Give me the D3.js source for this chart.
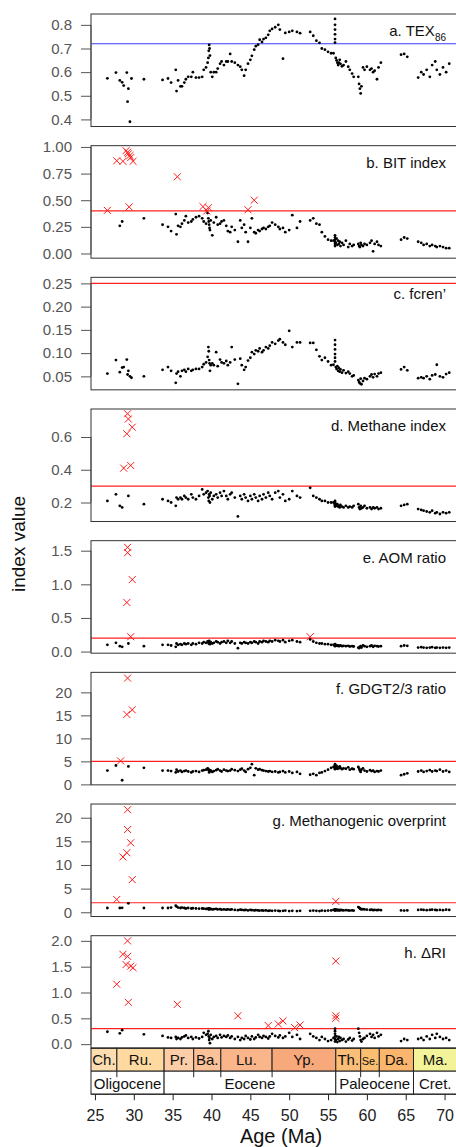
<!DOCTYPE html>
<html>
<head>
<meta charset="utf-8">
<script src="https://cdn.jsdelivr.net/npm/d3@7"></script>
<style>
  body { margin: 0; background: #fff; }
  svg { display: block; font-family: "Liberation Sans", Arial, Helvetica, sans-serif; }
</style>
</head>
<body>
<div id="chart"></div>
<script>
// sample ages (Ma), shared by all panels
var ages = [
  26.6, 27.7, 28.2, 28.5, 28.7, 29.1, 29.2, 29.3, 29.5, 29.7, 31.3,
  33.7, 34.4, 34.8, 35.4, 35.5, 35.7, 36.0, 36.2, 36.5, 36.7, 37.0, 37.4, 37.6, 38.0, 38.4, 38.8, 39.0, 39.3,
  39.5, 39.6, 39.65, 39.7, 39.75, 39.8, 39.9, 40.1, 40.3, 40.6, 40.8, 41.1, 41.3, 41.6, 41.9, 42.1,
  42.4, 42.6, 43.0, 43.4, 43.7, 43.9, 44.2, 44.4, 44.7, 45.0, 45.2, 45.5, 45.7, 46.0, 46.2, 46.5, 46.7, 47.0, 47.3, 47.5, 47.8, 48.2, 48.6, 48.8, 49.2, 49.5, 50.0, 50.4, 51.0, 51.4,
  52.7, 53.1, 53.5, 53.9, 54.2, 54.6, 55.0, 55.4,
  55.9, 55.9, 55.9, 55.9, 55.9, 55.9, 55.7, 56.0, 56.1, 56.2, 56.3, 56.4, 56.5, 56.6, 56.8, 57.0, 57.3, 57.6, 57.8, 58.1, 58.3,
  58.9, 59.0, 59.1, 59.2, 59.3, 59.5, 59.7, 60.0, 60.4, 60.6, 60.8, 61.0, 61.3, 61.5, 61.8,
  64.4, 64.8, 65.2,
  66.6, 67.0, 67.3, 67.7, 68.1, 68.4, 68.8, 69.0, 69.4, 69.8, 70.2, 70.6
];

var tex86 = [
  0.574, 0.598, 0.565, 0.557, 0.543, 0.598, 0.475, 0.53, 0.39, 0.573, 0.57,
  0.567, 0.573, 0.556, 0.61, 0.52, 0.565, 0.54, 0.54, 0.556, 0.57, 0.58, 0.58, 0.6, 0.577, 0.577, 0.58, 0.61, 0.62,
  0.64, 0.66, 0.69, 0.715, 0.70, 0.67, 0.6, 0.58, 0.6, 0.6, 0.615, 0.636, 0.645, 0.63, 0.645, 0.645,
  0.677, 0.645, 0.64, 0.63, 0.623, 0.61, 0.585, 0.61, 0.636, 0.652, 0.669, 0.695, 0.71, 0.716, 0.737, 0.728, 0.74, 0.745, 0.758, 0.775, 0.783, 0.79, 0.8, 0.78, 0.657, 0.766, 0.77, 0.775, 0.77, 0.765,
  0.77, 0.754, 0.733, 0.724, 0.7, 0.695, 0.686, 0.68,
  0.825, 0.80, 0.78, 0.76, 0.74, 0.725, 0.68, 0.66, 0.65, 0.64, 0.63, 0.64, 0.652, 0.635, 0.625, 0.63, 0.645, 0.623, 0.61, 0.594, 0.58,
  0.58, 0.55, 0.53, 0.51, 0.54, 0.62, 0.61, 0.623, 0.61, 0.615, 0.6, 0.606, 0.57, 0.62, 0.64,
  0.674, 0.677, 0.665,
  0.577, 0.6, 0.59, 0.61, 0.58, 0.63, 0.645, 0.61, 0.59, 0.62, 0.6, 0.636
];

var bit = [
  null, null, 0.26, 0.30, null, null, null, null, null, null, 0.33,
  0.27, 0.25, 0.21, 0.37, 0.18, 0.26, 0.25, 0.28, 0.31, 0.35, 0.29, 0.30, 0.32, 0.34, 0.35, 0.33, 0.30, 0.28,
  0.38, 0.33, 0.30, 0.27, 0.24, 0.22, 0.31, 0.17, 0.29, 0.34, 0.27, 0.28, 0.30, 0.31, 0.26, 0.21,
  0.20, 0.25, 0.22, 0.11, 0.31, 0.24, 0.27, 0.20, 0.11, 0.24, 0.33, 0.20, 0.19, 0.22, 0.21, 0.23, 0.24, 0.23, 0.25, 0.26, 0.29, 0.27, 0.25, 0.23, 0.24, 0.20, 0.22, 0.36, 0.24, 0.30,
  0.31, 0.33, 0.28, 0.27, 0.20, 0.16, 0.13, 0.12,
  0.17, 0.15, 0.13, 0.11, 0.09, 0.07, 0.12, 0.10, 0.14, 0.08, 0.12, 0.09, 0.11, 0.07, 0.10, 0.08, 0.12, 0.06, 0.09, 0.07, 0.08,
  0.09, 0.07, 0.06, 0.10, 0.08, 0.07, 0.09, 0.08, 0.10, 0.12, 0.02, 0.09, 0.11, 0.08, 0.07,
  0.13, 0.15, 0.14,
  0.11, 0.10, 0.08, 0.09, 0.07, 0.08, 0.07, 0.06, 0.07, 0.06, 0.05, 0.05
];

var fcren = [
  0.056, 0.085, 0.059, 0.069, 0.07, 0.086, 0.054, 0.062, 0.05, 0.047, 0.05,
  0.064, 0.07, 0.062, 0.036, 0.056, 0.06, 0.05, 0.062, 0.064, 0.06, 0.066, 0.062, 0.064, 0.066, 0.066, 0.07, 0.076, 0.08,
  0.092, 0.113, 0.104, 0.085, 0.078, 0.062, 0.074, 0.078, 0.074, 0.102, 0.072, 0.086, 0.08, 0.078, 0.083, 0.074,
  0.08, 0.113, 0.086, 0.034, 0.088, 0.074, 0.064, 0.07, 0.084, 0.09, 0.102, 0.098, 0.106, 0.104, 0.11, 0.102, 0.106, 0.113, 0.11, 0.116, 0.123, 0.12, 0.127, 0.13, 0.123, 0.118, 0.148, 0.113, 0.123, 0.123,
  0.122, 0.122, 0.107, 0.093, 0.085, 0.09, 0.082, 0.074,
  0.128, 0.118, 0.108, 0.098, 0.09, 0.082, 0.075, 0.07, 0.066, 0.072, 0.062, 0.068, 0.06, 0.065, 0.058, 0.063, 0.057, 0.06, 0.056, 0.05, 0.052,
  0.042, 0.038, 0.035, 0.045, 0.033, 0.04, 0.046, 0.044, 0.05, 0.054, 0.048, 0.055, 0.05, 0.056, 0.058,
  0.065, 0.07, 0.063,
  0.046, 0.048, 0.046, 0.05, 0.044, 0.052, 0.054, 0.075, 0.05, 0.048, 0.055, 0.058
];

var methane = [
  0.21, 0.25, 0.18, 0.17, null, null, null, 0.24, null, null, 0.19,
  0.22, 0.21, 0.20, 0.18, 0.23, 0.22, 0.23, 0.22, 0.24, 0.23, 0.22, 0.25, 0.23, 0.22, 0.24, 0.28, 0.25, 0.26,
  0.27, 0.23, 0.21, 0.25, 0.24, 0.20, 0.26, 0.22, 0.24, 0.25, 0.23, 0.26, 0.24, 0.27, 0.24, 0.22,
  0.25, 0.26, 0.23, 0.115, 0.24, 0.22, 0.25, 0.23, 0.21, 0.24, 0.22, 0.25, 0.23, 0.21, 0.24, 0.22, 0.25, 0.23, 0.26, 0.24, 0.22, 0.26, 0.27, 0.23, 0.25, 0.21, 0.22, 0.27, 0.24, 0.23,
  0.29, 0.24, 0.23, 0.22, 0.21, 0.21, 0.20, 0.20,
  0.21, 0.20, 0.19, 0.185, 0.18, 0.175, 0.20, 0.19, 0.18, 0.19, 0.175, 0.18, 0.17, 0.185, 0.175, 0.17, 0.18, 0.17, 0.175, 0.17, 0.18,
  0.19, 0.17, 0.16, 0.18, 0.165, 0.17, 0.18, 0.165, 0.17, 0.16, 0.17, 0.165, 0.17, 0.16, 0.165,
  0.18, 0.185, 0.19,
  0.16, 0.155, 0.15, 0.145, 0.14, 0.15, 0.135, 0.14, 0.13, 0.14, 0.135, 0.14
];

var aom = [
  0.10, 0.13, 0.08, 0.07, null, null, null, 0.12, null, null, 0.08,
  0.10, 0.10, 0.09, 0.07, 0.12, 0.10, 0.11, 0.10, 0.12, 0.11, 0.12, 0.10, 0.12, 0.11, 0.13, 0.12, 0.14, 0.13,
  0.15, 0.14, 0.12, 0.16, 0.13, 0.11, 0.14, 0.12, 0.13, 0.15, 0.14, 0.12, 0.14, 0.15, 0.13, 0.16,
  0.13, 0.15, 0.12, 0.05, 0.13, 0.12, 0.14, 0.13, 0.12, 0.14, 0.13, 0.15, 0.14, 0.12, 0.15, 0.14, 0.16, 0.15, 0.14, 0.16, 0.15, 0.17, 0.16, 0.15, 0.17, 0.14, 0.16, 0.17, 0.15, 0.14,
  0.18, 0.15, 0.13, 0.12, 0.12, 0.11, 0.11, 0.10,
  0.11, 0.10, 0.095, 0.09, 0.085, 0.08, 0.10, 0.09, 0.095, 0.085, 0.09, 0.08, 0.085, 0.09, 0.08, 0.085, 0.08, 0.085, 0.075, 0.08, 0.075,
  0.06, 0.05, 0.07, 0.08, 0.06, 0.09, 0.08, 0.07, 0.08, 0.09, 0.07, 0.085, 0.08, 0.075, 0.08,
  0.08, 0.09, 0.085,
  0.06, 0.065, 0.06, 0.055, 0.06, 0.065, 0.055, 0.06, 0.055, 0.06, 0.055, 0.06
];

var gdgt23 = [
  3.0, 4.1, null, 0.9, null, null, null, 3.9, null, null, 3.6,
  3.0, 3.0, 2.9, 2.6, 3.2, 2.8, 3.0, 2.7, 2.9, 3.0, 2.8, 2.6, 2.8, 2.9, 2.7, 3.0, 3.1, 3.2,
  3.5, 3.3, 3.0, 2.6, 2.8, 3.1, 3.0, 2.7, 2.9, 3.1, 3.3, 3.0, 2.8, 3.2, 3.0, 2.9,
  3.0, 3.3, 3.1, 2.9, 3.2, 3.4, 3.0, 2.7, 3.3, 3.6, 4.4, 2.0, 3.5, 3.2, 3.3, 3.1, 3.0, 2.9, 2.8, 2.9, 2.7, 2.8, 2.6, 2.7, 2.9, 2.6, 2.8, 2.5, 2.7, 2.3,
  2.1, 2.3, 2.0, 2.5, 2.6, 2.9, 3.2, 3.6,
  4.4, 4.1, 3.9, 3.7, 3.5, 3.3, 3.8, 3.6, 4.0, 3.4, 3.7, 3.5, 3.9, 3.6, 3.3, 3.5, 3.4, 3.7, 3.2, 3.4, 3.3,
  3.8, 3.4, 3.0, 2.7, 3.2, 3.5, 3.0, 2.8, 3.1, 2.9, 3.0, 2.7, 2.9, 2.8, 3.0,
  2.0, 2.2, 2.4,
  2.8, 3.0, 2.7, 2.9, 3.1, 2.8, 3.0, 2.9, 3.2, 2.8, 3.0, 2.7
];

var overprint = [
  0.9, null, 0.9, 0.95, null, null, null, 1.9, null, null, 0.9,
  0.9, 0.9, 1.0, 1.4, 1.2, 1.0, 0.9, 1.0, 0.9, 0.8, 0.9, 0.8, 0.85, 0.8, 0.75, 0.8, 0.75, 0.7,
  0.75, 0.7, 0.6, 0.8, 0.7, 0.65, 0.7, 0.6, 0.65, 0.7, 0.6, 0.65, 0.55, 0.6, 0.55, 0.6,
  0.55, 0.6, 0.5, 0.45, 0.55, 0.5, 0.45, 0.5, 0.4, 0.5, 0.45, 0.4, 0.45, 0.4, 0.35, 0.4, 0.35, 0.4, 0.3, 0.35, 0.3, 0.35, 0.3, 0.25, 0.3, 0.35, 0.25, 0.3, 0.25, 0.3,
  0.3, 0.35, 0.3, 0.25, 0.35, 0.3, 0.35, 0.4,
  0.6, 0.55, 0.5, 0.45, 0.5, 0.4, 0.5, 0.45, 0.55, 0.4, 0.5, 0.45, 0.4, 0.5, 0.45, 0.4, 0.45, 0.4, 0.35, 0.4, 0.35,
  1.1, 1.0, 0.8, 0.7, 0.6, 0.65, 0.6, 0.55, 0.5, 0.55, 0.45, 0.5, 0.45, 0.5, 0.45,
  0.4, 0.35, 0.4,
  0.5, 0.55, 0.5, 0.45, 0.5, 0.55, 0.5, 0.45, 0.5, 0.45, 0.55, 0.5
];

var deltaRI = [
  0.24, null, 0.21, 0.27, null, null, null, null, null, null, 0.19,
  0.16, 0.13, 0.12, 0.14, 0.10, 0.12, 0.10, 0.13, 0.15, 0.17, 0.12, 0.14, 0.10, 0.13, 0.11, 0.14, 0.22, 0.18,
  0.20, 0.25, 0.15, 0.08, 0.12, 0.02, 0.18, 0.10, 0.14, 0.16, 0.12, 0.18, 0.13, 0.16, 0.14, 0.17,
  0.12, 0.15, 0.10, 0.14, 0.08, 0.12, 0.10, 0.16, 0.12, 0.09, 0.15, 0.10, 0.13, 0.18, 0.14, 0.12, 0.16, 0.14, 0.11, 0.15, 0.20, 0.16, 0.13, 0.17, 0.12, 0.15, 0.22, 0.14, 0.18, 0.10,
  0.20, 0.15, 0.12, 0.08, 0.14, 0.10, 0.06, 0.08,
  0.30, 0.25, 0.20, 0.15, 0.10, 0.05, 0.12, 0.08, 0.15, 0.04, 0.10, 0.14, 0.06, 0.12, 0.08, 0.10, 0.05, 0.09, 0.12, 0.07, 0.10,
  0.30, 0.22, 0.15, 0.08, 0.05, 0.10, 0.12, 0.16, 0.20, 0.14, 0.18, 0.12, 0.22, 0.15, 0.18,
  0.06, 0.10, 0.08,
  0.10, 0.12, 0.08, 0.15, 0.10, 0.18, 0.12, 0.20, 0.14, 0.10, 0.12, 0.08
];

// flagged samples (red crosses), [age, value]
var bitFlag = [[26.6,0.405],[27.8,0.87],[28.6,0.865],[29.0,0.965],[29.2,0.95],[29.3,0.935],[29.5,0.92],[29.6,0.90],[29.9,0.865],[29.4,0.437],[35.6,0.72],[38.9,0.44],[39.4,0.40],[39.6,0.43],[44.7,0.41],[45.5,0.50]];
var methaneFlag = [[29.2,0.742],[29.3,0.71],[29.1,0.62],[29.8,0.66],[28.7,0.41],[29.6,0.426]];
var aomFlag = [[29.2,1.55],[29.2,1.47],[29.8,1.07],[29.1,0.73],[29.6,0.22],[52.7,0.22]];
var gdgtFlag = [[29.2,23.1],[29.1,15.2],[29.8,16.2],[28.3,5.1]];
var overprintFlag = [[29.2,21.7],[29.2,17.5],[29.6,14.7],[29.1,12.6],[28.6,11.7],[29.8,6.9],[27.8,2.7],[56.0,2.3]];
var deltaRIFlag = [[29.2,2.0],[28.6,1.74],[29.2,1.70],[29.0,1.54],[29.6,1.51],[29.9,1.48],[27.8,1.16],[29.3,0.81],[35.6,0.77],[43.4,0.55],[47.3,0.36],[48.6,0.39],[49.2,0.45],[50.7,0.32],[51.4,0.37],[56.0,1.61],[56.0,0.55],[56.0,0.5]];

// cut-off lines
var cutoffs = [0.72, 0.4, 0.25, 0.3, 0.2, 5, 2, 0.3];

var yTicks = [
  [0.4, 0.5, 0.6, 0.7, 0.8],
  [0, 0.25, 0.5, 0.75, 1],
  [0.05, 0.1, 0.15, 0.2, 0.25],
  [0.2, 0.4, 0.6],
  [0, 0.5, 1, 1.5],
  [0, 5, 10, 15, 20],
  [0, 5, 10, 15, 20],
  [0, 0.5, 1, 1.5, 2]
];
var yFormats = [".1f", ".2f", ".2f", ".1f", ".1f", "d", "d", ".1f"];
var yDomains = [[0.37, 0.846], [-0.044, 1.012], [0.021, 0.263], [0.084, 0.771], [-0.024, 1.649], [-0.1, 24.35], [-0.9, 22.9], [-0.078, 2.1]];

var stages = [
  ["Ch.", 23.03, 27.82, "#fbddb0"],
  ["Ru.", 27.82, 33.9, "#fedaa0"],
  ["Pr.", 33.9, 37.71, "#fccda6"],
  ["Ba.", 37.71, 41.2, "#fbc198"],
  ["Lu.", 41.2, 47.8, "#fab58b"],
  ["Yp.", 47.8, 56.0, "#f8a97c"],
  ["Th.", 56.0, 59.2, "#fbbe78"],
  ["Se.", 59.2, 61.6, "#fcbf70"],
  ["Da.", 61.6, 66.0, "#fbb56d"],
  ["Ma.", 66.0, 72.1, "#f3f39a"]
];
var epochs = [
  ["Oligocene", 23.03, 33.9],
  ["Eocene", 33.9, 56.0],
  ["Paleocene", 56.0, 66.0],
  ["Cret.", 66.0, 100]
];
var xTicks = [25, 30, 35, 40, 45, 50, 55, 60, 65, 70];

var panels = [
  {id: "a", label: "TEX", sub: "86", values: tex86, flags: [], lineColor: "#3a3aff"},
  {id: "b", label: "BIT index", values: bit, flags: bitFlag, lineColor: "#ff2020"},
  {id: "c", label: "fcren\u2019", values: fcren, flags: [], lineColor: "#ff2020"},
  {id: "d", label: "Methane index", values: methane, flags: methaneFlag, lineColor: "#ff2020"},
  {id: "e", label: "AOM ratio", values: aom, flags: aomFlag, lineColor: "#ff2020"},
  {id: "f", label: "GDGT2/3 ratio", values: gdgt23, flags: gdgtFlag, lineColor: "#ff2020"},
  {id: "g", label: "Methanogenic overprint", values: overprint, flags: overprintFlag, lineColor: "#ff2020"},
  {id: "h", label: "\u0394RI", values: deltaRI, flags: deltaRIFlag, lineColor: "#ff2020"}
];

var width = 456, height = 1147;
var left = 91, right = 457;
var top0 = 14, step = 131.67, ph = 112.5;

var svg = d3.select("#chart").append("svg")
  .attr("width", width)
  .attr("height", height);

svg.append("defs").append("clipPath").attr("id", "clip")
  .append("rect").attr("x", left).attr("y", 0).attr("width", right - left).attr("height", height);

var x = d3.scaleLinear().domain([24.49, 71.6]).range([left, right]);

panels.forEach(function(p, i) {
  var top = top0 + i * step, bottom = top + ph;
  var y = d3.scaleLinear().domain(yDomains[i]).range([bottom, top]);
  var g = svg.append("g");
  var plot = g.append("g").attr("clip-path", "url(#clip)");

  // cut-off line
  plot.append("line")
    .attr("x1", left).attr("x2", right)
    .attr("y1", y(cutoffs[i])).attr("y2", y(cutoffs[i]))
    .attr("stroke", p.lineColor).attr("stroke-width", 1.1);

  var pts = ages.map(function(a, k) { return [a, p.values[k]]; })
    .filter(function(d) { return d[1] !== null; });

  plot.selectAll("circle.pt").data(pts).enter().append("circle")
    .attr("class", "pt")
    .attr("cx", function(d) { return x(d[0]); })
    .attr("cy", function(d) { return y(d[1]); })
    .attr("r", 1.4)
    .attr("fill", "#000");

  plot.selectAll("path.flag").data(p.flags).enter().append("path")
    .attr("class", "flag")
    .attr("d", d3.symbol().type(d3.symbolX).size(34))
    .attr("transform", function(d) { return "translate(" + x(d[0]) + "," + y(d[1]) + ")"; })
    .attr("fill", "none")
    .attr("stroke", "#ff1a1a")
    .attr("stroke-width", 1);

  // y axis
  var axis = d3.axisLeft(y).tickValues(yTicks[i]).tickSize(10).tickPadding(9)
    .tickFormat(d3.format(yFormats[i]));
  var ag = g.append("g").attr("transform", "translate(" + left + ",0)").call(axis);
  ag.select(".domain")
    .attr("d", "M0," + y(yTicks[i][0]) + "V" + y(yTicks[i][yTicks[i].length - 1]))
    .attr("stroke", "#666");
  ag.selectAll(".tick line").attr("stroke", "#555");
  ag.selectAll(".tick text").attr("fill", "#555").style("font-size", "15px");

  // box
  g.append("rect")
    .attr("x", left).attr("y", top)
    .attr("width", right - left).attr("height", ph)
    .attr("fill", "none").attr("stroke", "#333").attr("stroke-width", 1);

  var t = g.append("text")
    .attr("x", 446).attr("y", top + 22)
    .attr("text-anchor", "end")
    .style("font-size", "15px")
    .attr("fill", "#111")
    .text(p.id + ". " + p.label);
  if (p.sub) {
    t.append("tspan").attr("dy", 5).style("font-size", "10px").text(p.sub);
  }
});

// geologic time scale
var sTop = top0 + 7 * step + ph, sH = 23, eTop = sTop + sH, eH = 23;
var ts = svg.append("g").attr("clip-path", "url(#clip)");

ts.selectAll("rect.stage").data(stages).enter().append("rect")
  .attr("class", "stage")
  .attr("x", function(d) { return x(d[1]); })
  .attr("width", function(d) { return x(d[2]) - x(d[1]); })
  .attr("y", sTop).attr("height", sH)
  .attr("fill", function(d) { return d[3]; })
  .attr("stroke", "#222").attr("stroke-width", 1);

ts.selectAll("text.stage").data(stages).enter().append("text")
  .attr("class", "stage")
  .attr("x", function(d) { return (Math.max(x(d[1]), left) + Math.min(x(d[2]), right)) / 2; })
  .attr("y", sTop + 16.5)
  .attr("text-anchor", "middle")
  .style("font-size", function(d) { return d[0] === "Se." ? "11px" : "15px"; })
  .attr("fill", "#111")
  .text(function(d) { return d[0]; });

ts.selectAll("rect.epoch").data(epochs).enter().append("rect")
  .attr("class", "epoch")
  .attr("x", function(d) { return x(d[1]); })
  .attr("width", function(d) { return x(d[2]) - x(d[1]); })
  .attr("y", eTop).attr("height", eH)
  .attr("fill", "#fff")
  .attr("stroke", "#222").attr("stroke-width", 1);

// small ticks where stages meet inside an epoch
var inner = stages.filter(function(d) {
  return epochs.every(function(e) { return e[1] !== d[1]; });
});
ts.selectAll("line.inner").data(inner).enter().append("line")
  .attr("x1", function(d) { return x(d[1]); })
  .attr("x2", function(d) { return x(d[1]); })
  .attr("y1", eTop).attr("y2", eTop + 6)
  .attr("stroke", "#222");

ts.selectAll("text.epoch").data(epochs).enter().append("text")
  .attr("class", "epoch")
  .attr("x", function(d) { return (Math.max(x(d[1]), left) + Math.min(x(d[2]), right)) / 2; })
  .attr("y", eTop + 17.5)
  .attr("text-anchor", "middle")
  .style("font-size", "15px")
  .attr("fill", "#111")
  .text(function(d) { return d[0]; });

svg.append("rect")
  .attr("x", left).attr("y", sTop)
  .attr("width", right - left).attr("height", sH + eH)
  .attr("fill", "none").attr("stroke", "#222");

// x axis
var xa = svg.append("g")
  .attr("transform", "translate(0," + (eTop + eH) + ")")
  .call(d3.axisBottom(x).tickValues(xTicks).tickSize(6).tickPadding(9).tickFormat(d3.format("d")));
xa.select(".domain").remove();
xa.selectAll(".tick line").attr("stroke", "#222");
xa.selectAll(".tick text").attr("fill", "#222").style("font-size", "16px");

svg.append("text")
  .attr("x", 281).attr("y", 1143)
  .attr("text-anchor", "middle")
  .style("font-size", "20px")
  .attr("fill", "#111")
  .text("Age (Ma)");

svg.append("text")
  .attr("transform", "translate(25,544) rotate(-90)")
  .attr("text-anchor", "middle")
  .style("font-size", "19px")
  .attr("fill", "#111")
  .text("index value");
</script>
</body>
</html>
